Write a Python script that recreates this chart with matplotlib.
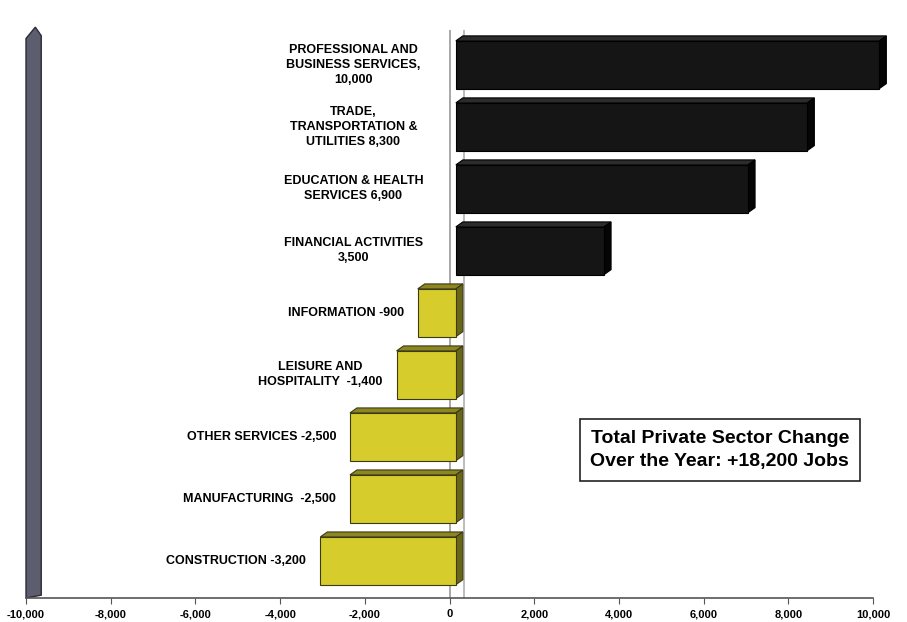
import numpy as np
import matplotlib.pyplot as plt
from matplotlib.patches import Polygon

plt.rcParams['font.family'] = ['Liberation Sans', 'DejaVu Sans']

# data, top to bottom
labels = [
    "PROFESSIONAL AND\nBUSINESS SERVICES,\n10,000",
    "TRADE,\nTRANSPORTATION &\nUTILITIES 8,300",
    "EDUCATION & HEALTH\nSERVICES 6,900",
    "FINANCIAL ACTIVITIES\n3,500",
    "INFORMATION -900",
    "LEISURE AND\nHOSPITALITY  -1,400",
    "OTHER SERVICES -2,500",
    "MANUFACTURING  -2,500",
    "CONSTRUCTION -3,200",
]
values = [10000, 8300, 6900, 3500, -900, -1400, -2500, -2500, -3200]
xticks = [-10000, -8000, -6000, -4000, -2000, 0, 2000, 4000, 6000, 8000, 10000]
note = "Total Private Sector Change\nOver the Year: +18,200 Jobs"

fig = plt.figure(figsize=(9.07, 6.22), dpi=100)
ax = fig.add_axes([26 / 907, 24 / 622, 847 / 907, 568 / 622])

n = len(values)
ypos = np.arange(n)[::-1]
h = 0.77
dx, dy = 165, 0.08   # fake 3d depth
shift = 150          # front faces sit a bit right of the axis (perspective)

# zero lines (front and back plane)
ax.axvline(0, color='#9a9a9a', lw=1.2, zorder=0)
ax.axvline(350, color='#b0b0b0', lw=1.2, zorder=0)

for y, v in zip(ypos, values):
    if v > 0:
        front, top, side, edge = '#151515', '#2c2c2c', '#050505', '#000000'
    else:
        front, top, side, edge = '#d6cd2c', '#8c8722', '#6a6618', '#3c3a12'
    x0, x1 = min(0, v) + shift, max(0, v) + shift
    y0, y1 = y - h / 2, y + h / 2
    # top face
    ax.add_patch(Polygon([(x0, y1), (x1, y1), (x1 + dx, y1 + dy), (x0 + dx, y1 + dy)],
                         closed=True, fc=top, ec=edge, lw=0.8, zorder=2, clip_on=False))
    # side face
    ax.add_patch(Polygon([(x1, y0), (x1 + dx, y0 + dy), (x1 + dx, y1 + dy), (x1, y1)],
                         closed=True, fc=side, ec=edge, lw=0.8, zorder=2, clip_on=False))
    ax.barh(y, x1 - x0, left=x0, height=h, color=front, edgecolor=edge, lw=0.8,
            zorder=3, clip_on=False)

for y, v, lab in zip(ypos, values, labels):
    if v > 0:
        ax.text(-2270, y, lab, ha='center', va='center', fontsize=9,
                fontweight='bold', linespacing=1.35)
    else:
        ax.text(v + shift - 330, y, lab, ha='right', va='center', fontsize=9,
                fontweight='bold', multialignment='center', linespacing=1.35)

# left wall
wall = Polygon([(0.0, 0.0), (0.018, 0.005), (0.018, 0.99), (0.011, 1.005), (0.0, 0.985)],
               closed=True, transform=ax.transAxes, fc='#5d5d70', ec='#2a2a35',
               lw=1, clip_on=False, zorder=1)
ax.add_patch(wall)

ax.text(0.819, 0.261, note, transform=ax.transAxes, ha='center', va='center',
        fontsize=14, fontweight='bold', linespacing=1.5,
        bbox=dict(boxstyle='square,pad=0.55', fc='white', ec='#222222', lw=1.2))

ax.set_xlim(-10000, 10000)
ax.set_ylim(-0.6, n - 0.44)
ax.set_xticks(xticks)
ax.set_xticklabels([f"{t:,}" for t in xticks], fontsize=8, fontweight='bold')
ax.set_yticks([])
ax.tick_params(axis='x', length=4, color='#555555', pad=4)
for s in ['top', 'right', 'left']:
    ax.spines[s].set_visible(False)
ax.spines['bottom'].set_color('#555555')
ax.spines['bottom'].set_linewidth(1.2)

fig.savefig('out.png', dpi=100)
